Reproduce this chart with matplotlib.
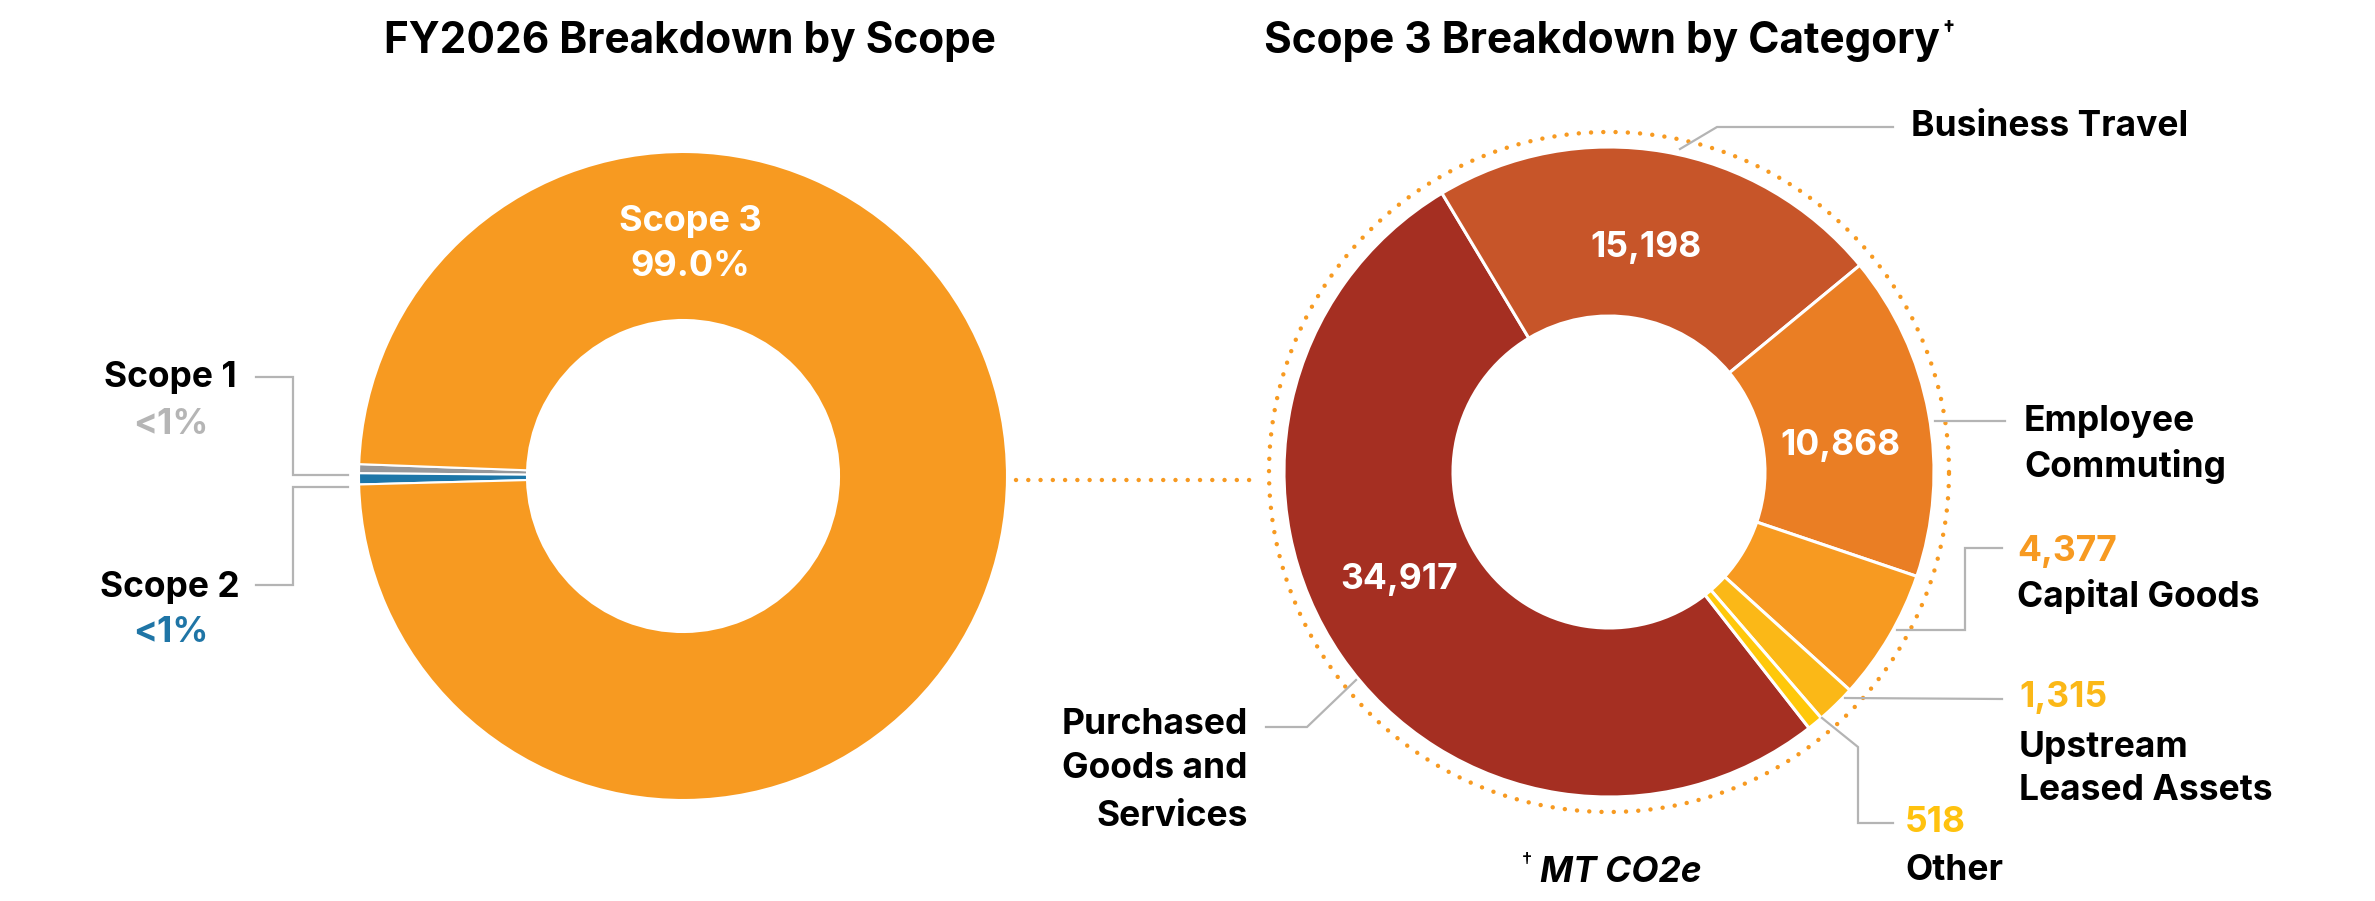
import numpy as np
import matplotlib.pyplot as plt

# left chart: FY2026 share by scope (%)
scope_labels = ["Scope 1", "Scope 2", "Scope 3"]
scope_share = [0.45, 0.55, 99.0]
scope_text = ["<1%", "<1%", "99.0%"]
scope_colors = ["#97989B", "#1D76A8", "#F79A21"]
scope_text_colors = ["#B5B5B5", "#1F75A6", "white"]

# right chart: scope 3 by category (MT CO2e)
cat_labels = ["Purchased\nGoods and\nServices", "Business Travel", "Employee\nCommuting",
              "Capital Goods", "Upstream\nLeased Assets", "Other"]
cat_values = [34917, 15198, 10868, 4377, 1315, 518]
cat_colors = ["#A52F22", "#C75529", "#EA7E24", "#F79A21", "#FBB817", "#FFC80A"]
cat_value_colors = ["white", "white", "white", "#F79A21", "#FBB817", "#FFC20E"]

W, H = 2375, 901
plt.rcParams['font.family'] = ['Inter', 'DejaVu Sans']

fig = plt.figure(figsize=(W / 100, H / 100), dpi=100)
ax = fig.add_axes([0, 0, 1, 1])


def Y(y):
    # image row -> data y
    return H - y


FS = 25.5
LEAD = "#B4B4B4"
DOT = "#F79A21"

c1 = (683, Y(476))
c2 = (1609, Y(472))

ax.pie(scope_share, colors=scope_colors, startangle=177.9, counterclock=True,
       center=c1, radius=324,
       wedgeprops=dict(width=168, edgecolor="white", linewidth=1.5))
ax.pie(cat_values, colors=cat_colors, startangle=-52, counterclock=False,
       center=c2, radius=325,
       wedgeprops=dict(width=169, edgecolor="white", linewidth=2.2))

# dotted ring round scope 3 and the dotted link
t = np.linspace(0, 2 * np.pi, 800)
ax.plot(c2[0] + 340 * np.cos(t), c2[1] + 340 * np.sin(t), color=DOT, lw=3.2,
        linestyle=(0, (0.01, 2.75)), dash_capstyle="round")
ax.plot([1016, 1258], [Y(480), Y(480)], color=DOT, lw=3.2,
        linestyle=(0, (0.01, 2.75)), dash_capstyle="round")

# titles
ax.text(690, Y(41), "FY2026 Breakdown by Scope", ha="center", va="center",
        fontsize=30.5, fontweight="bold")
t2 = ax.text(1602, Y(41), "Scope 3 Breakdown by Category", ha="center", va="center",
             fontsize=30.5, fontweight="bold")

# leader lines (image coords)
leaders = [
    [(256, 377), (293, 377), (293, 475), (348, 475)],
    [(256, 585), (293, 585), (293, 487), (348, 487)],
    [(1680, 149), (1717, 127), (1893, 127)],
    [(1935, 421), (2005, 421)],
    [(1897, 630), (1965, 630), (1965, 548), (2002, 548)],
    [(1845, 698), (2002, 699)],
    [(1822, 718), (1858, 747), (1858, 823), (1893, 823)],
    [(1266, 727), (1307, 727), (1356, 680)],
]
for pts in leaders:
    xs, ys = zip(*pts)
    ax.plot(xs, [Y(v) for v in ys], color=LEAD, lw=1.6, solid_joinstyle="miter")

# scope labels
ax.text(170, Y(378), scope_labels[0], ha="center", va="center", fontsize=FS, fontweight="bold")
ax.text(171, Y(425), scope_text[0], ha="center", va="center", fontsize=FS,
        fontweight="bold", color=scope_text_colors[0])
ax.text(170, Y(587), scope_labels[1], ha="center", va="center", fontsize=FS, fontweight="bold")
ax.text(171, Y(632), scope_text[1], ha="center", va="center", fontsize=FS,
        fontweight="bold", color=scope_text_colors[1])
ax.text(690, Y(221), scope_labels[2], ha="center", va="center", fontsize=FS + 0.5,
        fontweight="bold", color=scope_text_colors[2])
ax.text(690, Y(266), scope_text[2], ha="center", va="center", fontsize=FS + 0.5,
        fontweight="bold", color=scope_text_colors[2])

# values inside the scope 3 ring
val_pos = [(1399, 579), (1646, 248), (1840, 445)]
for (x, y), v, c in zip(val_pos, cat_values[:3], cat_value_colors[:3]):
    ax.text(x, Y(y), f"{v:,}", ha="center", va="center", fontsize=FS,
            fontweight="bold", color=c)

# category labels
ax.text(1248, Y(724), "Purchased", ha="right", va="center", fontsize=FS, fontweight="bold")
ax.text(1248, Y(769), "Goods and", ha="right", va="center", fontsize=FS, fontweight="bold")
ax.text(1248, Y(816), "Services", ha="right", va="center", fontsize=FS, fontweight="bold")
ax.text(1911, Y(127), cat_labels[1], ha="left", va="center", fontsize=FS, fontweight="bold")
ax.text(2024, Y(422), "Employee", ha="left", va="center", fontsize=FS, fontweight="bold")
ax.text(2024, Y(467), "Commuting", ha="left", va="center", fontsize=FS, fontweight="bold")
ax.text(2017, Y(551), f"{cat_values[3]:,}", ha="left", va="center", fontsize=FS,
        fontweight="bold", color=cat_value_colors[3])
ax.text(2017, Y(597), cat_labels[3], ha="left", va="center", fontsize=FS, fontweight="bold")
ax.text(2019, Y(698), f"{cat_values[4]:,}", ha="left", va="center", fontsize=FS,
        fontweight="bold", color=cat_value_colors[4])
ax.text(2019, Y(747), "Upstream", ha="left", va="center", fontsize=FS, fontweight="bold")
ax.text(2019, Y(790), "Leased Assets", ha="left", va="center", fontsize=FS, fontweight="bold")
ax.text(1905, Y(823), f"{cat_values[5]:,}", ha="left", va="center", fontsize=FS,
        fontweight="bold", color=cat_value_colors[5])
ax.text(1905, Y(870), cat_labels[5], ha="left", va="center", fontsize=FS, fontweight="bold")

# footnote
note = ax.text(1540, Y(873), "MT CO2e", ha="left", va="center", fontsize=FS,
               fontweight="bold", style="italic")

ax.set_xlim(0, W)
ax.set_ylim(0, H)
ax.axis("off")

# daggers placed after measuring the text they sit next to
fig.canvas.draw()
inv = ax.transData.inverted()
bb = t2.get_window_extent()
x_end = inv.transform((bb.x1, bb.y1))[0]
ax.text(x_end + 2, Y(30), "\u2020", ha="left", va="center", fontsize=15,
        fontweight="bold")
ax.text(1532, Y(862), "\u2020", ha="right", va="center", fontsize=15)

fig.savefig("out.png", dpi=100)
